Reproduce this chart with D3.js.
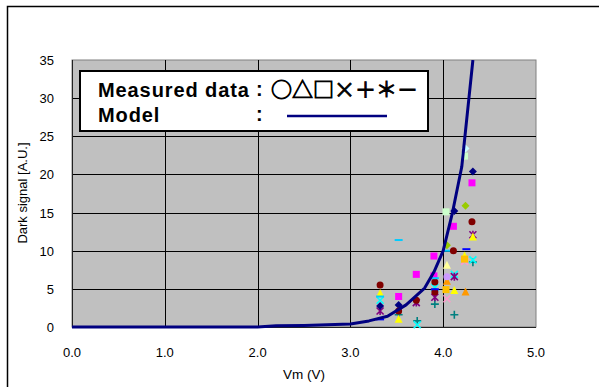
<!DOCTYPE html>
<html>
<head>
<meta charset="utf-8">
<script src="https://cdn.jsdelivr.net/npm/d3@7"></script>
<style>
  body { margin: 0; background: #fff; }
  svg { display: block; }
  text { font-family: Arial, "Liberation Sans", sans-serif; fill: #000; }
</style>
</head>
<body>
<div id="chart"></div>
<script>
// axis ticks
var xTicks = [0, 1, 2, 3, 4, 5];
var yTicks = [0, 5, 10, 15, 20, 25, 30, 35];

// model curve (Vm, signal)
var modelVm  = [0, 0.5, 1.0, 1.5, 2.0, 2.2, 2.5, 3.0, 3.2, 3.4, 3.6, 3.8, 3.9, 4.0, 4.1, 4.2, 4.32];
var modelSig = [0, 0, 0, 0, 0, 0.15, 0.2, 0.4, 0.8, 1.4, 2.9, 5.1, 7.2, 10.0, 15.0, 21.0, 35.0];

// measured data, one array per series: [Vm, signal]
var navyDiamond   = [[3.32, 2.75], [3.52, 2.9], [4.12, 15.2], [4.32, 20.4]];
var magentaSquare = [[3.52, 4.0], [3.71, 6.9], [3.90, 9.3], [4.11, 13.2], [4.31, 18.9]];
var yellowTri     = [[3.32, 4.4], [3.52, 1.0], [4.12, 4.8], [4.23, 9.3], [4.32, 11.8]];
var cyanX         = [[3.32, 3.5], [3.72, 0.3], [3.91, 5.2], [4.12, 6.9], [4.32, 8.8]];
var purpleStar    = [[3.32, 2.1], [3.71, 3.2], [3.91, 3.9], [4.12, 6.6], [4.32, 12.1]];
var maroonCircle  = [[3.32, 5.5], [3.52, 2.1], [3.71, 3.5], [3.91, 5.9], [4.11, 10.0], [4.31, 13.8]];
var tealPlus      = [[3.52, 1.6], [3.72, 0.8], [3.91, 3.0], [4.12, 1.6], [4.32, 8.5]];
var cyanDash      = [[3.32, 4.0], [3.52, 11.4], [3.91, 6.4], [4.03, 10.0]];
var blueDash      = [[3.32, 1.0], [3.91, 4.95], [4.25, 10.2]];
var ltCyanDiamond = [[4.24, 23.4]];
var ltGreenSquare = [[4.03, 15.1], [4.23, 22.4]];
var ltYellowTri   = [[4.04, 8.1]];
var lavCircle     = [[4.04, 6.6]];
var orangeSquare  = [[4.03, 4.9], [4.23, 8.9]];
var orangeTri     = [[4.04, 6.0], [4.24, 4.6]];
var pinkX         = [[4.04, 3.7], [4.23, 8.6]];
var greenDiamond  = [[4.04, 10.7], [4.24, 15.9]];
var maroonCircle2 = [[3.91, 4.6]];
var magentaSq2    = [[3.90, 6.7]];

var series = [
  {pts: pinkX, shape: "x", color: "#ff99cc"},
  {pts: tealPlus, shape: "plus", color: "#008080"},
  {pts: cyanX, shape: "x", color: "#00ffff"},
  {pts: purpleStar, shape: "star", color: "#800080"},
  {pts: yellowTri, shape: "tri", color: "#ffff00"},
  {pts: ltYellowTri, shape: "tri", color: "#ffff99"},
  {pts: orangeTri, shape: "tri", color: "#ff9900"},
  {pts: navyDiamond, shape: "diamond", color: "#000080"},
  {pts: magentaSquare, shape: "square", color: "#ff00ff"},
  {pts: magentaSq2, shape: "square", color: "#ff00ff"},
  {pts: orangeSquare, shape: "square", color: "#ffc000"},
  {pts: ltGreenSquare, shape: "square", color: "#ccffcc"},
  {pts: ltCyanDiamond, shape: "diamond", color: "#ccffff"},
  {pts: greenDiamond, shape: "diamond", color: "#99cc00"},
  {pts: lavCircle, shape: "circle", color: "#cc99ff"},
  {pts: maroonCircle, shape: "circle", color: "#800000"},
  {pts: maroonCircle2, shape: "circle", color: "#800000"},
  {pts: cyanDash, shape: "dash", color: "#00ccff"},
  {pts: blueDash, shape: "dash", color: "#0000ff"}
];

var W = 599, H = 387;
var plot = {left: 72, right: 536, top: 60, bottom: 327};

var svg = d3.select("#chart").append("svg")
  .attr("width", W).attr("height", H);

// outer frame (left and top edges visible)
svg.append("path")
  .attr("d", "M7.5," + H + "V6.5H" + W)
  .attr("fill", "none").attr("stroke", "#000").attr("stroke-width", 1.5);

var x = d3.scaleLinear().domain([0, 5]).range([plot.left, plot.right]);
var y = d3.scaleLinear().domain([0, 35]).range([plot.bottom, plot.top]);

// plot background
svg.append("rect")
  .attr("x", plot.left).attr("y", plot.top)
  .attr("width", plot.right - plot.left).attr("height", plot.bottom - plot.top)
  .attr("fill", "#c0c0c0").attr("stroke", "#808080").attr("stroke-width", 1);

// grid lines
svg.append("g").selectAll("line")
  .data(xTicks.filter(function(d) { return d > 0 && d < 5; }))
  .join("line")
  .attr("x1", function(d) { return Math.round(x(d)) + 0.5; })
  .attr("x2", function(d) { return Math.round(x(d)) + 0.5; })
  .attr("y1", plot.top).attr("y2", plot.bottom)
  .attr("stroke", "#000").attr("stroke-width", 1);

svg.append("g").selectAll("line")
  .data(yTicks.filter(function(d) { return d > 0 && d < 35; }))
  .join("line")
  .attr("y1", function(d) { return Math.round(y(d)) + 0.5; })
  .attr("y2", function(d) { return Math.round(y(d)) + 0.5; })
  .attr("x1", plot.left).attr("x2", plot.right)
  .attr("stroke", "#000").attr("stroke-width", 1);

// axis lines
svg.append("line")
  .attr("x1", plot.left + 0.5).attr("x2", plot.left + 0.5)
  .attr("y1", plot.top).attr("y2", plot.bottom)
  .attr("stroke", "#222");
svg.append("line")
  .attr("x1", plot.left).attr("x2", plot.right)
  .attr("y1", plot.bottom + 0.5).attr("y2", plot.bottom + 0.5)
  .attr("stroke", "#222");

// tick labels
svg.append("g").selectAll("text")
  .data(yTicks).join("text")
  .attr("x", 54).attr("y", function(d) { return y(d) + 5; })
  .attr("text-anchor", "end").attr("font-size", 13)
  .text(function(d) { return d; });

svg.append("g").selectAll("text")
  .data(xTicks).join("text")
  .attr("x", function(d) { return x(d); }).attr("y", 357)
  .attr("text-anchor", "middle").attr("font-size", 13)
  .text(function(d) { return d.toFixed(1); });

// axis titles
svg.append("text")
  .attr("x", 304).attr("y", 379)
  .attr("text-anchor", "middle").attr("font-size", 13.5)
  .text("Vm (V)");

svg.append("text")
  .attr("transform", "translate(27,193) rotate(-90)")
  .attr("text-anchor", "middle").attr("font-size", 13)
  .text("Dark signal [A.U.]");

// clip for the model line
svg.append("clipPath").attr("id", "clip")
  .append("rect")
  .attr("x", plot.left).attr("y", plot.top)
  .attr("width", plot.right - plot.left).attr("height", plot.bottom - plot.top + 3);

// markers
function drawMarker(g, shape, color) {
  if (shape === "square") {
    g.append("rect").attr("x", -3.5).attr("y", -3.5).attr("width", 7).attr("height", 7).attr("fill", color);
  } else if (shape === "diamond") {
    g.append("path").attr("d", "M0,-4L4,0L0,4L-4,0Z").attr("fill", color);
  } else if (shape === "tri") {
    g.append("path").attr("d", "M0,-4.5L4,3.5L-4,3.5Z").attr("fill", color);
  } else if (shape === "circle") {
    g.append("circle").attr("r", 3.5).attr("fill", color);
  } else if (shape === "x" || shape === "star") {
    g.append("path").attr("d", "M-3.5,-3.5L3.5,3.5M3.5,-3.5L-3.5,3.5" + (shape === "star" ? "M0,-4V4" : ""))
      .attr("stroke", color).attr("stroke-width", 1.6).attr("fill", "none");
  } else if (shape === "plus") {
    g.append("path").attr("d", "M-4,0H4M0,-4V4")
      .attr("stroke", color).attr("stroke-width", 1.6).attr("fill", "none");
  } else if (shape === "dash") {
    g.append("path").attr("d", "M-4,0H4")
      .attr("stroke", color).attr("stroke-width", 2).attr("fill", "none");
  }
}

var marks = svg.append("g");
series.forEach(function(s) {
  s.pts.forEach(function(p) {
    var g = marks.append("g").attr("transform", "translate(" + x(p[0]) + "," + y(p[1]) + ")");
    drawMarker(g, s.shape, s.color);
  });
});

// model line
var line = d3.line()
  .x(function(d, i) { return x(modelVm[i]); })
  .y(function(d) { return y(d); });

svg.append("path")
  .attr("d", line(modelSig))
  .attr("clip-path", "url(#clip)")
  .attr("fill", "none").attr("stroke", "#000080").attr("stroke-width", 3)
  .attr("stroke-linejoin", "round");

// legend
var lg = svg.append("g");
lg.append("rect")
  .attr("x", 80).attr("y", 71).attr("width", 348).attr("height", 60)
  .attr("fill", "#fff").attr("stroke", "#000").attr("stroke-width", 2);
lg.append("text")
  .attr("x", 98).attr("y", 97).attr("font-size", 20).attr("font-weight", "bold")
  .attr("letter-spacing", 0.9)
  .text("Measured data");
lg.append("text")
  .attr("x", 98).attr("y", 122).attr("font-size", 20).attr("font-weight", "bold")
  .attr("letter-spacing", 0.9)
  .text("Model");
lg.append("text")
  .attr("x", 256).attr("y", 96).attr("font-size", 20).attr("font-weight", "bold")
  .text(":");
lg.append("text")
  .attr("x", 256).attr("y", 121).attr("font-size", 20).attr("font-weight", "bold")
  .text(":");
lg.append("text")
  .attr("x", 271).attr("y", 97).attr("font-size", 21)
  .attr("stroke", "#000").attr("stroke-width", 0.9)
  .style("font-family", "'Noto Sans CJK JP', sans-serif")
  .text("○△□×＋＊－");
lg.append("line")
  .attr("x1", 287).attr("x2", 387).attr("y1", 116).attr("y2", 116)
  .attr("stroke", "#000080").attr("stroke-width", 2.5);
</script>
</body>
</html>
